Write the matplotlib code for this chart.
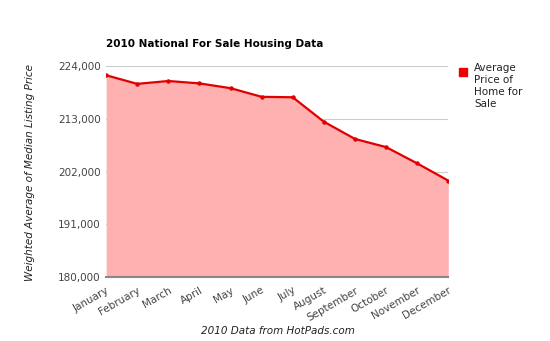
import matplotlib.pyplot as plt
from matplotlib.patches import Rectangle

# Data
months = ['January', 'February', 'March', 'April', 'May', 'June', 'July',
          'August', 'September', 'October', 'November', 'December']
prices = [222100, 220300, 220900, 220400, 219400, 217600, 217500,
          212400, 208800, 207100, 203700, 200100]
yticks = [180000, 191000, 202000, 213000, 224000]

fig = plt.figure(figsize=(5.5, 3.41), dpi=100)
ax = fig.add_axes([0.193, 0.188, 0.622, 0.618])

x = range(len(months))
ax.fill_between(x, prices, 180000, color='#ffb0b0', lw=0)
ax.plot(x, prices, color='#e00000', lw=1.6, marker='o', ms=2.2, zorder=3)

ax.set_xlim(0, len(months) - 1)
ax.set_ylim(180000, 224000)
ax.set_yticks(yticks)
ax.set_yticklabels(['{:,}'.format(v) for v in yticks], fontsize=7.5, color='#444444')
ax.set_xticks(list(x))
ax.set_xticklabels(months, rotation=30, ha='right', rotation_mode='anchor',
                   fontsize=7.5, color='#444444')
ax.tick_params(axis='y', length=0, pad=4)
ax.tick_params(axis='x', length=0, pad=6)
ax.grid(axis='y', color='#cccccc', lw=0.8)
ax.set_axisbelow(True)
for s in ['top', 'right', 'left']:
    ax.spines[s].set_visible(False)
ax.spines['bottom'].set_color('#888888')
ax.spines['bottom'].set_linewidth(1.5)

fig.text(0.193, 0.87, '2010 National For Sale Housing Data', fontsize=7.5,
         fontweight='bold', ha='left', va='center')
fig.text(0.055, 0.495, 'Weighted Average of Median Listing Price', rotation=90,
         fontsize=7.5, style='italic', color='#222222', ha='center', va='center')
fig.text(0.505, 0.03, '2010 Data from HotPads.com', fontsize=7.5,
         style='italic', color='#222222', ha='center', va='center')

# legend
fig.patches.append(Rectangle((0.835, 0.777), 0.0145, 0.023, color='#ee0000',
                             transform=fig.transFigure))
fig.text(0.862, 0.815, 'Average\nPrice of\nHome for\nSale', fontsize=7.5,
         color='#222222', ha='left', va='top', linespacing=1.25)

fig.savefig('out.png', dpi=100)
